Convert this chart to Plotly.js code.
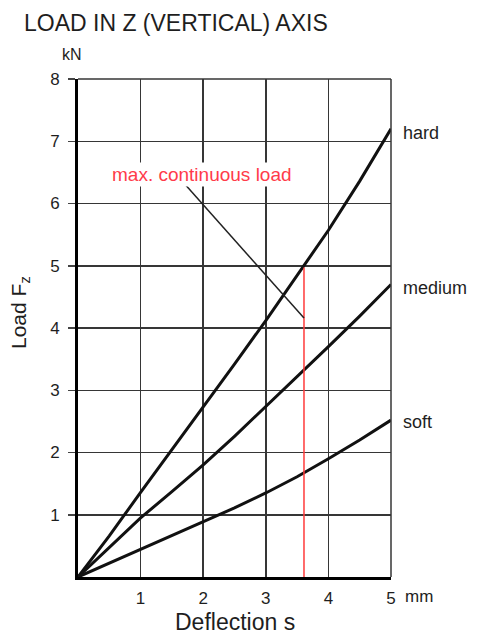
<!DOCTYPE html>
<html>
<head>
<meta charset="utf-8">
<script src="https://cdn.plot.ly/plotly-3.0.1.min.js"></script>
<style>html,body{margin:0;padding:0;background:#fff;}#chart{width:480px;height:637px;}</style>
</head>
<body>
<div id="chart"></div>
<script>
// Deflection s (mm)
const deflection = [0, 0.5, 1, 1.5, 2, 2.5, 3, 3.5, 4, 4.5, 5];
// Load Fz (kN) for each spring type
const hardLoad   = [0, 0.66, 1.36, 2.04, 2.74, 3.42, 4.12, 4.84, 5.57, 6.36, 7.2];
const mediumLoad = [0, 0.47, 0.95, 1.37, 1.8, 2.26, 2.74, 3.21, 3.70, 4.19, 4.7];
const softLoad   = [0, 0.22, 0.45, 0.66, 0.88, 1.11, 1.35, 1.61, 1.9, 2.2, 2.52];
const seriesNames = ['hard', 'medium', 'soft'];
// max. continuous load marker
const maxLoadX = [3.61, 3.61];
const maxLoadY = [0, 4.97];
const pointerX = [1.68, 3.61];
const pointerY = [6.34, 4.16];
const xTickVals = [1, 2, 3, 4, 5];
const xTickText = ['1', '2', '3', '4', '5'];
const yTickVals = [1, 2, 3, 4, 5, 6, 7, 8];

const font = 'Arial, "Liberation Sans", Helvetica, sans-serif';
const ink = '#1e1e1e';
const curveStyle = {color: '#111', width: 3};

const traces = [
  {x: deflection, y: hardLoad, name: seriesNames[0], mode: 'lines', line: curveStyle},
  {x: deflection, y: mediumLoad, name: seriesNames[1], mode: 'lines', line: curveStyle},
  {x: deflection, y: softLoad, name: seriesNames[2], mode: 'lines', line: curveStyle},
  {x: maxLoadX, y: maxLoadY, mode: 'lines', line: {color: '#ff3b3b', width: 1.5}},
  {x: pointerX, y: pointerY, mode: 'lines', line: {color: '#222', width: 1.5}}
];

const last = deflection.length - 1;
const layout = {
  width: 480, height: 637,
  margin: {l: 78, r: 89, t: 79, b: 60},
  paper_bgcolor: '#fff', plot_bgcolor: '#fff',
  showlegend: false,
  font: {family: font, color: ink},
  title: {text: 'LOAD IN Z (VERTICAL) AXIS', font: {size: 23, color: ink},
          x: 24/480, xanchor: 'left', xref: 'container', y: 1 - 23/637, yanchor: 'middle', yref: 'container'},
  xaxis: {
    range: [0, 5], tickvals: xTickVals, ticktext: xTickText, ticks: '',
    showgrid: true, gridcolor: '#363636', gridwidth: 1.5,
    showline: true, linecolor: '#000', linewidth: 3,
    zeroline: false, fixedrange: true,
    tickfont: {size: 17, color: ink}, ticklabelstandoff: 4
  },
  yaxis: {
    range: [0, 8], tickvals: yTickVals, ticks: 'outside', ticklen: 7, tickcolor: '#444', tickwidth: 1.5,
    showgrid: true, gridcolor: '#363636', gridwidth: 1.5,
    showline: true, linecolor: '#000', linewidth: 3,
    zeroline: false, fixedrange: true,
    tickfont: {size: 17, color: ink}, ticklabelstandoff: 5
  },
  shapes: [
    {type: 'line', xref: 'paper', yref: 'paper', x0: 0, x1: 1, y0: 1, y1: 1, line: {color: '#363636', width: 1.5}},
    {type: 'line', xref: 'paper', yref: 'paper', x0: 1, x1: 1, y0: 0, y1: 1, line: {color: '#363636', width: 1.5}}
  ],
  annotations: [
    {x: deflection[last], y: hardLoad[last] - 0.07, xref: 'x', yref: 'y', text: seriesNames[0], showarrow: false,
     xanchor: 'left', xshift: 10, font: {size: 18, color: ink}},
    {x: deflection[last], y: mediumLoad[last] - 0.06, xref: 'x', yref: 'y', text: seriesNames[1], showarrow: false,
     xanchor: 'left', xshift: 10, font: {size: 18, color: ink}},
    {x: deflection[last], y: softLoad[last] - 0.03, xref: 'x', yref: 'y', text: seriesNames[2], showarrow: false,
     xanchor: 'left', xshift: 10, font: {size: 18, color: ink}},
    {x: 1.98, y: 6.46, xref: 'x', yref: 'y', text: 'max. continuous load', showarrow: false,
     bgcolor: '#fff', borderpad: 1, font: {size: 19, color: '#ff3b4a'}},
    {x: 0, y: 1, xref: 'paper', yref: 'paper', text: 'kN', showarrow: false,
     xanchor: 'center', yanchor: 'middle', xshift: -6, yshift: 25, font: {size: 16, color: ink}},
    {x: 5, y: 0, xref: 'x', yref: 'paper', text: 'mm', showarrow: false,
     xanchor: 'left', yanchor: 'middle', xshift: 12, yshift: -19, font: {size: 17, color: ink}},
    {x: 0.5, y: 0, xref: 'paper', yref: 'paper', text: 'Deflection s', showarrow: false,
     xanchor: 'center', yanchor: 'middle', yshift: -45, font: {size: 23, color: ink}},
    {x: 0, y: 0.5, xref: 'paper', yref: 'paper', text: 'Load F<sub>z</sub>', showarrow: false, textangle: -90,
     xanchor: 'center', yanchor: 'middle', xshift: -58, yshift: 15, font: {size: 21, color: ink}}
  ]
};

Plotly.newPlot('chart', traces, layout, {displayModeBar: false, staticPlot: true});
</script>
</body>
</html>
